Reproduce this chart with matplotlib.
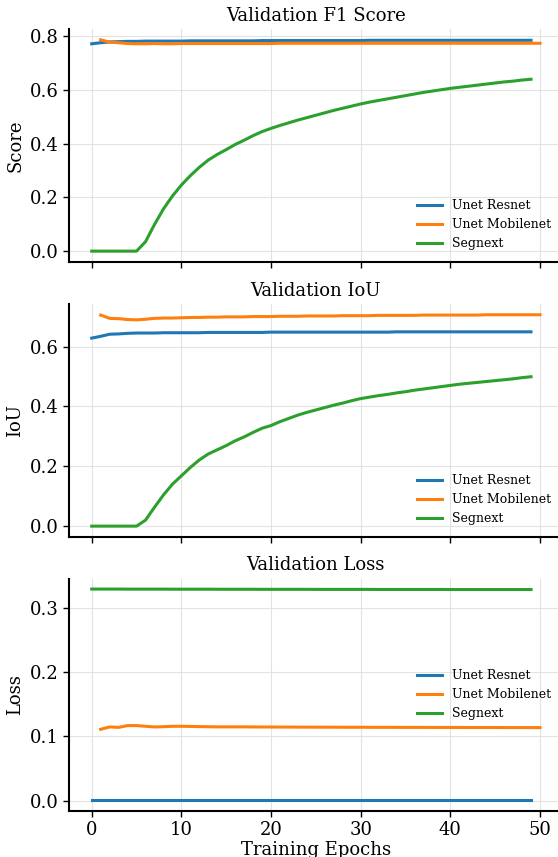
import numpy as np
import matplotlib
matplotlib.use("Agg")
import matplotlib.pyplot as plt

epochs_a = list(range(0, 50))   # Unet Resnet, Segnext
epochs_b = list(range(1, 51))   # Unet Mobilenet

labels = ["Unet Resnet", "Unet Mobilenet", "Segnext"]
colors = ["#1f77b4", "#ff7f0e", "#2ca02c"]

# ---- Validation F1 Score ----
f1_resnet = [0.772, 0.776, 0.779, 0.780, 0.781, 0.781, 0.782, 0.782, 0.782, 0.782,
             0.782, 0.783, 0.783, 0.783, 0.783, 0.783, 0.783, 0.783, 0.783, 0.784,
             0.784, 0.784, 0.784, 0.784, 0.784, 0.784, 0.784, 0.784, 0.784, 0.784,
             0.784, 0.785, 0.785, 0.785, 0.785, 0.785, 0.785, 0.785, 0.785, 0.785,
             0.785, 0.785, 0.785, 0.785, 0.785, 0.785, 0.785, 0.785, 0.785, 0.785]
f1_mobilenet = [0.787, 0.778, 0.776, 0.773, 0.772, 0.772, 0.773, 0.772, 0.772, 0.773,
                0.773, 0.773, 0.773, 0.773, 0.773, 0.773, 0.773, 0.773, 0.773, 0.773,
                0.774, 0.774, 0.774, 0.774, 0.774, 0.774, 0.774, 0.774, 0.774, 0.774,
                0.774, 0.774, 0.774, 0.774, 0.774, 0.774, 0.774, 0.774, 0.774, 0.774,
                0.774, 0.774, 0.774, 0.774, 0.774, 0.774, 0.774, 0.774, 0.774, 0.774]
f1_segnext = [0.0, 0.0, 0.0, 0.0, 0.0, 0.0, 0.035, 0.099, 0.157, 0.205,
              0.246, 0.281, 0.312, 0.339, 0.360, 0.378, 0.397, 0.413, 0.430, 0.445,
              0.457, 0.468, 0.478, 0.488, 0.497, 0.506, 0.515, 0.524, 0.532, 0.540,
              0.548, 0.555, 0.561, 0.567, 0.573, 0.579, 0.585, 0.591, 0.596, 0.601,
              0.606, 0.610, 0.614, 0.618, 0.622, 0.626, 0.630, 0.633, 0.637, 0.640]

# ---- Validation IoU ----
iou_resnet = [0.628, 0.634, 0.641, 0.642, 0.644, 0.645, 0.645, 0.645, 0.646, 0.646,
              0.646, 0.646, 0.646, 0.647, 0.647, 0.647, 0.647, 0.647, 0.647, 0.647,
              0.648, 0.648, 0.648, 0.648, 0.648, 0.648, 0.648, 0.648, 0.648, 0.648,
              0.648, 0.648, 0.648, 0.648, 0.649, 0.649, 0.649, 0.649, 0.649, 0.649,
              0.649, 0.649, 0.649, 0.649, 0.649, 0.649, 0.649, 0.649, 0.649, 0.649]
iou_mobilenet = [0.705, 0.694, 0.693, 0.690, 0.689, 0.691, 0.694, 0.695, 0.695, 0.696,
                 0.697, 0.697, 0.698, 0.698, 0.699, 0.699, 0.699, 0.700, 0.700, 0.700,
                 0.701, 0.701, 0.701, 0.702, 0.702, 0.702, 0.702, 0.703, 0.703, 0.703,
                 0.703, 0.704, 0.704, 0.704, 0.704, 0.704, 0.705, 0.705, 0.705, 0.705,
                 0.705, 0.705, 0.705, 0.706, 0.706, 0.706, 0.706, 0.706, 0.706, 0.706]
iou_segnext = [0.0, 0.0, 0.0, 0.0, 0.0, 0.0, 0.020, 0.063, 0.104, 0.140,
               0.168, 0.196, 0.221, 0.241, 0.255, 0.269, 0.285, 0.298, 0.313, 0.327,
               0.336, 0.349, 0.360, 0.371, 0.380, 0.388, 0.396, 0.404, 0.411, 0.419,
               0.426, 0.431, 0.436, 0.440, 0.445, 0.449, 0.454, 0.458, 0.462, 0.466,
               0.470, 0.474, 0.477, 0.480, 0.483, 0.486, 0.489, 0.492, 0.496, 0.499]

# ---- Validation Loss ----
loss_resnet = [0.0005] * 50
loss_mobilenet = [0.111, 0.1147, 0.114, 0.1168, 0.1168, 0.1157, 0.1147, 0.1150, 0.1157, 0.1157,
                  0.1155, 0.1152, 0.1150, 0.1148, 0.1148, 0.1148, 0.1148, 0.1147, 0.1146, 0.1146,
                  0.1145, 0.1145, 0.1144, 0.1144, 0.1143, 0.1143, 0.1143, 0.1142, 0.1142, 0.1142,
                  0.1141, 0.1141, 0.1141, 0.1140, 0.1140, 0.1140, 0.1140, 0.1139, 0.1139, 0.1139,
                  0.1139, 0.1138, 0.1138, 0.1138, 0.1138, 0.1137, 0.1137, 0.1137, 0.1137, 0.1136]
loss_segnext = [0.3289, 0.3289, 0.3289, 0.3289, 0.3288, 0.3288, 0.3288, 0.3288, 0.3288, 0.3287,
                0.3287, 0.3287, 0.3287, 0.3287, 0.3286, 0.3286, 0.3286, 0.3286, 0.3286, 0.3285,
                0.3285, 0.3285, 0.3285, 0.3285, 0.3285, 0.3284, 0.3284, 0.3284, 0.3284, 0.3284,
                0.3284, 0.3284, 0.3283, 0.3283, 0.3283, 0.3283, 0.3283, 0.3283, 0.3283, 0.3283,
                0.3282, 0.3282, 0.3282, 0.3282, 0.3282, 0.3282, 0.3282, 0.3282, 0.3282, 0.3282]

titles = ["Validation F1 Score", "Validation IoU", "Validation Loss"]
ylabels = ["Score", "IoU", "Loss"]
xlabel = "Training Epochs"
legend_locs = ["lower right", "lower right", "center right"]

plt.rcParams["font.family"] = ["DejaVu Serif"]

W, H = 558, 857
fig = plt.figure(figsize=(W / 100, H / 100), dpi=100)

left = 69.3 / W
width = 493.1 / W
height = 232.5 / H
bottoms_px = [261.7, 536.7, 811.0]

panels = [
    (f1_resnet, f1_mobilenet, f1_segnext),
    (iou_resnet, iou_mobilenet, iou_segnext),
    (loss_resnet, loss_mobilenet, loss_segnext),
]

axes = []
for i, (series, bpx) in enumerate(zip(panels, bottoms_px)):
    ax = fig.add_axes([left, (H - bpx) / H, width, height],
                      sharex=axes[0] if axes else None)
    axes.append(ax)
    xs = [epochs_a, epochs_b, epochs_a]
    for x, y, lab, c in zip(xs, series, labels, colors):
        ax.plot(x, y, color=c, lw=2.2, label=lab)
    ax.set_title(titles[i], fontsize=13)
    ax.set_ylabel(ylabels[i], fontsize=13)
    ax.grid(True, color="#dddddd", lw=0.8, alpha=0.8)
    ax.set_axisbelow(True)
    for s in ["top", "right"]:
        ax.spines[s].set_visible(False)
    for s in ["left", "bottom"]:
        ax.spines[s].set_linewidth(1.5)
    ax.tick_params(axis="both", labelsize=13, length=4, width=1)
    ax.legend(loc=legend_locs[i], frameon=False, fontsize=9)
    if i < 2:
        ax.tick_params(axis="x", labelbottom=False)

axes[0].set_xlim(-2.5, 52.5)
axes[0].set_xticks([0, 10, 20, 30, 40, 50])
axes[0].set_yticks([0.0, 0.2, 0.4, 0.6, 0.8])
axes[1].set_yticks([0.0, 0.2, 0.4, 0.6])
axes[2].set_yticks([0.0, 0.1, 0.2, 0.3])
axes[2].set_xlabel(xlabel, fontsize=13, labelpad=1)

fig.savefig("out.png", dpi=100)
